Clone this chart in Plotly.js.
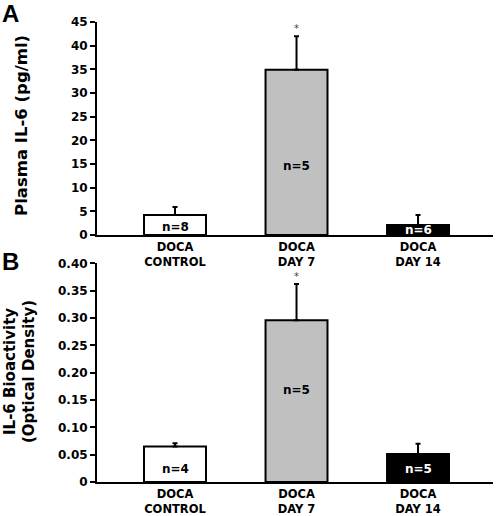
<!DOCTYPE html>
<html><head><meta charset="utf-8">
<script src="https://cdn.plot.ly/plotly-3.0.1.min.js"></script>
<style>html,body{margin:0;padding:0;background:#fff;}#chart{width:496px;height:516px;}</style>
</head><body><div id="chart"></div>
<script>
// ---- data ----
const categories = [0, 1, 2];
const tickLabels = ["DOCA<br>CONTROL", "DOCA<br>DAY 7", "DOCA<br>DAY 14"];
const barColors = ["#ffffff", "#c0c0c0", "#000000"];
// Panel A: Plasma IL-6 (pg/ml)
const plasmaMean = [4.2, 34.9, 2.1];
const plasmaSem  = [1.7, 7.1, 2.1];
const plasmaN    = ["n=8", "n=5", "n=6"];
const plasmaSig  = ["", "*", ""];
// Panel B: IL-6 bioactivity (optical density)
const bioMean = [0.065, 0.296, 0.051];
const bioSem  = [0.006, 0.066, 0.019];
const bioN    = ["n=4", "n=5", "n=5"];
const bioSig  = ["", "*", ""];
const yTicksA = [0,5,10,15,20,25,30,35,40,45];
const yTicksB = [0,0.05,0.10,0.15,0.20,0.25,0.30,0.35,0.40];
const yTickTextB = ["0","0.05","0.10","0.15","0.20","0.25","0.30","0.35","0.40"];
const yTitleA = "Plasma IL-6 (pg/ml)";
const yTitleB = "IL-6 Bioactivity<br>(Optical Density)";

const FONT = "DejaVu Sans, Verdana, sans-serif";
const nLabelFracA = [0.40, 0.42, 0.5];
const nLabelFracB = [0.36, 0.57, 0.46];

function barTrace(mean, sem, xa, ya) {
  return {
    type: "bar", x: categories, y: mean, xaxis: xa, yaxis: ya, width: 0.51,
    marker: {color: barColors, line: {color: "#000", width: 2}},
    error_y: {type: "data", array: sem, arrayminus: sem.map(() => 0), symmetric: false,
              color: "#000", thickness: 2, width: 2.5},
    hoverinfo: "none", showlegend: false
  };
}

const data = [barTrace(plasmaMean, plasmaSem, "x", "y"), barTrace(bioMean, bioSem, "x2", "y2")];

const annotations = [];
function addAnn(mean, sem, nLab, sig, frac, xr, yr) {
  categories.forEach((c, i) => {
    annotations.push({x: c, y: mean[i] * frac[i], xref: xr, yref: yr, text: nLab[i], showarrow: false,
      font: {family: FONT, size: 12, color: barColors[i] === "#000000" ? "#fff" : "#000", weight: "bold"},
      yanchor: "middle"});
    if (sig[i]) annotations.push({x: c, y: mean[i] + sem[i], xref: xr, yref: yr, text: sig[i], showarrow: false,
      font: {family: FONT, size: 10, color: "#444"}, yanchor: "bottom", yshift: 0});
  });
}
addAnn(plasmaMean, plasmaSem, plasmaN, plasmaSig, nLabelFracA, "x", "y");
addAnn(bioMean, bioSem, bioN, bioSig, nLabelFracB, "x2", "y2");
annotations.push({x: 0, y: 1, xref: "paper", yref: "paper", xanchor: "left", yanchor: "top", text: "<b>A</b>",
  showarrow: false, font: {family: "Liberation Sans, Arial, sans-serif", size: 24, color: "#000"}, xshift: -97, yshift: 24});
annotations.push({x: 0, y: 0.509, xref: "paper", yref: "paper", xanchor: "left", yanchor: "top", text: "<b>B</b>",
  showarrow: false, font: {family: "Liberation Sans, Arial, sans-serif", size: 24, color: "#000"}, xshift: -97, yshift: 2});
// y-axis titles
annotations.push({x: 0, y: 0.774, xref: "paper", yref: "paper", xanchor: "center", yanchor: "middle", xshift: -75,
  text: yTitleA, textangle: -90, showarrow: false, font: {family: FONT, size: 16.5, color: "#000", weight: "bold"}});
annotations.push({x: 0, y: 0.239, xref: "paper", yref: "paper", xanchor: "center", yanchor: "middle", xshift: -77,
  text: yTitleB, textangle: -90, showarrow: false, font: {family: FONT, size: 15, color: "#000", weight: "bold"}});

const xCommon = {range: [-0.642, 2.617], tickmode: "array", tickvals: categories, ticktext: tickLabels,
  showline: true, linecolor: "#000", linewidth: 2, ticks: "", showgrid: false, zeroline: false,
  tickfont: {family: FONT, size: 11.5, color: "#000", weight: "bold"}, automargin: false, fixedrange: true};
const yCommon = {showline: true, linecolor: "#000", linewidth: 2, ticks: "outside", ticklen: 5, tickwidth: 2,
  tickcolor: "#000", showgrid: false, zeroline: false, tickmode: "array",
  tickfont: {family: FONT, size: 12, color: "#000", weight: "bold"}, automargin: false, fixedrange: true};

const layout = {
  width: 496, height: 516, margin: {l: 97, r: 3, t: 22, b: 34},
  paper_bgcolor: "#fff", plot_bgcolor: "#fff", bargap: 0,
  xaxis: Object.assign({}, xCommon, {anchor: "y", domain: [0, 1], ticklabelstandoff: 0}),
  xaxis2: Object.assign({}, xCommon, {anchor: "y2", domain: [0, 1], ticklabelstandoff: 0}),
  yaxis: Object.assign({}, yCommon, {domain: [0.537, 1], range: [0, 45], tickvals: yTicksA, ticktext: yTicksA.map(String), anchor: "x"}),
  yaxis2: Object.assign({}, yCommon, {domain: [0, 0.4754], range: [0, 0.40], tickvals: yTicksB, ticktext: yTickTextB, anchor: "x2"}),
  annotations: annotations
};
Plotly.newPlot("chart", data, layout, {displayModeBar: false, staticPlot: true});
</script></body></html>
